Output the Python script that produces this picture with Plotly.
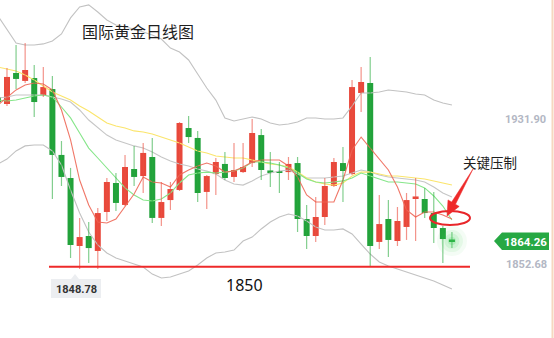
import plotly.graph_objects as go

W, H = 554, 338

# ---- data (daily gold candles) ----
opens = [1944.1, 1940.2, 1957.4, 1953.0, 1954.6, 1945.2, 1948.5, 1912.0, 1899.2, 1861.55,
         1867.1, 1858.8, 1880.4, 1896.45, 1884.3, 1904.2, 1900.3, 1910.85, 1877.1, 1887.0,
         1892.6, 1926.9, 1921.4, 1891.5, 1901.4, 1907.0, 1899.8, 1902.5, 1907.5, 1923.0,
         1903.1, 1902.5, 1902.5, 1907.5, 1876.5, 1867.1, 1877.6, 1894.8, 1907.5, 1901.4,
         1946.3, 1951.85, 1863.8, 1876.5, 1864.3, 1872.1, 1888.1, 1887.6, 1879.8, 1871.5,
         1864.9]
highs = [1945.75, 1960.2, 1972.9, 1974.0, 1961.8, 1960.7, 1955.7, 1919.7, 1904.8, 1877.1,
         1874.8, 1882.6, 1899.2, 1902.0, 1912.0, 1917.0, 1918.6, 1921.4, 1897.0, 1897.0,
         1930.2, 1933.6, 1925.3, 1900.9, 1910.3, 1913.6, 1918.6, 1918.6, 1931.9, 1926.4,
         1913.6, 1908.1, 1910.85, 1910.85, 1884.3, 1888.7, 1899.2, 1910.3, 1916.4, 1953.5,
         1960.7, 1966.25, 1889.8, 1887.0, 1883.15, 1890.9, 1899.2, 1893.7, 1891.5, 1872.6,
         1869.3]
lows = [1939.7, 1939.1, 1948.5, 1951.85, 1933.0, 1944.1, 1887.6, 1894.8, 1854.9, 1848.8,
        1852.1, 1848.78, 1875.4, 1880.9, 1883.7, 1894.8, 1890.9, 1874.3, 1872.6, 1881.5,
        1892.0, 1918.6, 1885.9, 1882.0, 1889.8, 1898.1, 1897.0, 1902.0, 1905.3, 1898.1,
        1894.2, 1890.9, 1898.1, 1869.3, 1859.9, 1863.8, 1873.2, 1894.2, 1885.9, 1900.9,
        1935.8, 1850.5, 1859.9, 1855.45, 1861.55, 1864.9, 1864.3, 1877.1, 1863.2, 1852.1,
        1860.4]
closes = [1941.3, 1955.2, 1954.1, 1959.05, 1941.3, 1949.6, 1912.0, 1899.8, 1862.1, 1866.5,
          1860.4, 1879.8, 1897.0, 1885.4, 1905.3, 1899.8, 1913.1, 1877.1, 1885.9, 1893.1,
          1929.7, 1921.9, 1890.9, 1900.3, 1908.1, 1899.2, 1903.65, 1905.3, 1924.15, 1903.65,
          1902.5, 1902.0, 1907.0, 1876.5, 1867.1, 1877.6, 1894.8, 1908.1, 1903.1, 1949.6,
          1952.4, 1861.55, 1873.7, 1864.9, 1875.4, 1887.0, 1888.7, 1879.8, 1871.5, 1865.4,
          1864.26]

ma_red = [1939.7, 1944.1, 1948.0, 1950.7, 1951.85, 1951.3, 1948.0, 1936.9, 1920.3, 1898.1,
          1884.3, 1874.8, 1874.3, 1876.5, 1883.15, 1890.35, 1899.8, 1897.0, 1896.45, 1894.2,
          1900.9, 1903.65, 1905.9, 1907.5, 1905.9, 1902.5, 1903.1, 1905.3, 1908.1, 1909.2,
          1909.2, 1909.2, 1905.9, 1899.8, 1889.8, 1885.9, 1885.9, 1885.9, 1898.1, 1914.7,
          1921.9, 1915.8, 1909.2, 1903.65, 1894.2, 1881.5, 1877.6, 1880.4, 1880.4, 1878.7,
          1876.5]
ma_green = [1942.4, 1941.9, 1942.4, 1943.5, 1944.65, 1945.2, 1944.1, 1938.55, 1932.5, 1924.15,
            1915.8, 1910.3, 1904.8, 1899.8, 1893.7, 1889.8, 1887.0, 1886.5, 1887.6, 1890.9,
            1896.45, 1900.9, 1902.0, 1902.5, 1902.0, 1902.5, 1903.1, 1904.8, 1908.1, 1908.1,
            1907.5, 1906.4, 1904.8, 1902.0, 1898.7, 1897.0, 1896.45, 1897.0, 1897.6, 1899.2,
            1902.0, 1900.3, 1898.7, 1897.0, 1897.0, 1896.45, 1895.9, 1893.7, 1889.25, 1883.7,
            1875.95]
ma_yellow = [1960.7, 1959.6, 1958.5, 1956.3, 1953.5, 1950.2, 1946.9, 1944.65, 1942.4, 1939.1,
             1936.3, 1933.0, 1929.7, 1928.0, 1926.9, 1925.3, 1924.7, 1923.6, 1921.9, 1920.3,
             1918.6, 1916.4, 1914.2, 1913.1, 1911.4, 1910.85, 1910.3, 1910.3, 1909.2, 1908.1,
             1907.0, 1906.4, 1905.3, 1902.5, 1899.2, 1897.0, 1895.9, 1895.3, 1896.45, 1900.3,
             1902.5, 1902.5, 1901.4, 1900.3, 1900.3, 1899.8, 1899.2, 1898.7, 1897.6, 1896.45,
             1895.3]
boll_mid = [1943.5, 1944.1, 1945.2, 1945.2, 1945.2, 1945.2, 1944.1, 1943.0, 1941.3, 1936.9,
            1931.35, 1926.9, 1923.0, 1920.3, 1918.6, 1917.0, 1915.8, 1913.6, 1910.85, 1908.6,
            1907.0, 1905.9, 1904.2, 1903.1, 1901.4, 1898.1, 1895.9, 1895.3, 1897.6, 1900.3,
            1902.0, 1903.1, 1903.65, 1901.4, 1899.2, 1899.2, 1899.2, 1899.8, 1900.3, 1902.0,
            1903.65, 1902.5, 1900.9, 1899.8, 1899.2, 1898.7, 1898.1, 1897.0, 1894.2, 1890.9,
            1888.7]
boll_up = [1989.0, 1981.2, 1974.0, 1972.9, 1972.9, 1973.5, 1975.1, 1979.0, 1987.9, 1994.0,
           1995.1, 1991.2, 1986.75, 1984.0, 1982.9, 1981.8, 1980.1, 1978.4, 1976.2, 1971.2,
           1969.0, 1964.6, 1956.8, 1949.1, 1942.4, 1932.5, 1930.8, 1931.9, 1933.0, 1931.9,
           1929.7, 1928.6, 1929.1, 1930.2, 1932.5, 1932.5, 1931.9, 1931.9, 1932.5, 1939.1,
           1946.3, 1946.3, 1946.9, 1948.0, 1947.4, 1946.9, 1945.75, 1945.2, 1942.4, 1940.8,
           1939.7]
boll_low = [1907.0, 1909.7, 1914.2, 1917.0, 1917.5, 1917.5, 1914.2, 1906.4, 1892.6, 1879.8,
            1869.3, 1862.1, 1857.7, 1854.9, 1853.2, 1851.6, 1849.9, 1846.0, 1843.8, 1844.4,
            1846.0, 1847.7, 1851.0, 1854.9, 1857.7, 1858.2, 1859.3, 1864.3, 1866.5, 1871.0,
            1874.8, 1877.6, 1879.3, 1878.2, 1875.4, 1872.1, 1870.4, 1870.4, 1871.0, 1868.2,
            1862.65, 1857.1, 1852.7, 1850.5, 1848.8, 1847.1, 1845.5, 1843.8, 1842.2, 1839.9,
            1837.7]

last_price = 1864.26
label_high = 1931.90
label_low = 1852.68
period_low = 1848.78
support_level = 1850
title_text = "国际黄金日线图"
note_text = "关键压制"

# ---- styling ----
RED = "#e8483b"
GREEN = "#22a23b"
RED_WICK = "rgba(236,80,66,0.62)"
GREEN_WICK = "rgba(40,170,60,0.58)"
X_RANGE = [0.231, 61.24]
Y_RANGE = [1810.58, 1997.83]


def px(x):
    return x / W


def py(y):
    return 1 - y / H


idx = list(range(len(closes)))
fig = go.Figure()

# bollinger + moving averages
for series, color in [(boll_up, "#c2c2c2"), (boll_low, "#c2c2c2"), (boll_mid, "#c6c6c6"),
                      (ma_yellow, "#fbe56c"), (ma_green, "#86e68a"), (ma_red, "rgba(238,104,88,0.9)")]:
    fig.add_trace(go.Scatter(x=idx, y=series, mode="lines",
                             line=dict(color=color, width=1.1), hoverinfo="skip",
                             showlegend=False))

# candles: wicks and bodies
for up, body_col, wick_col in [(True, RED, RED_WICK), (False, GREEN, GREEN_WICK)]:
    sel = [i for i in idx if (closes[i] > opens[i]) == up]
    wx, wy = [], []
    for i in sel:
        wx += [i, i, None]
        wy += [lows[i], highs[i], None]
    fig.add_trace(go.Scatter(x=wx, y=wy, mode="lines", line=dict(color=wick_col, width=1.2),
                             hoverinfo="skip", showlegend=False))
    fig.add_trace(go.Bar(x=sel,
                         base=[min(opens[i], closes[i]) for i in sel],
                         y=[max(abs(closes[i] - opens[i]), 0.9) for i in sel],
                         width=0.66, marker=dict(color=body_col, line=dict(width=0)),
                         hoverinfo="skip", showlegend=False))

# glow on the latest price
for s, op in [(30, 0.06), (22, 0.09), (15, 0.13), (8, 0.2)]:
    fig.add_trace(go.Scatter(x=[idx[-1]], y=[last_price], mode="markers",
                             marker=dict(size=s, color="#41d25a", opacity=op, line=dict(width=0)),
                             hoverinfo="skip", showlegend=False))

shapes = []
# 1850 support line
shapes.append(dict(type="line", xref="paper", yref="y", x0=px(49), x1=px(470),
                   y0=support_level, y1=support_level, line=dict(color="#ee2a2a", width=2)))
# right edge line
shapes.append(dict(type="line", xref="paper", yref="paper", x0=px(552.5), x1=px(552.5),
                   y0=0, y1=1, line=dict(color="#f6d8bf", width=2)))
# ellipse
shapes.append(dict(type="circle", xref="paper", yref="paper", x0=px(430), x1=px(470),
                   y0=py(225), y1=py(211), line=dict(color="#e8262a", width=2)))
# arrow
pts = [(473, 169), (455.5, 204.3), (459.2, 206.4), (447, 216), (448.0, 199.9), (451.7, 202.0)]
path = "M " + " L ".join(f"{px(a):.5f},{py(b):.5f}" for a, b in pts) + " Z"
shapes.append(dict(type="path", xref="paper", yref="paper", path=path,
                   fillcolor="#ee2a2a", line=dict(color="#ee2a2a", width=0.5)))
# price tag
tag = [(494, 241), (502, 232.5), (549, 232.5), (549, 250), (502, 250)]
path = "M " + " L ".join(f"{px(a):.5f},{py(b):.5f}" for a, b in tag) + " Z"
shapes.append(dict(type="path", xref="paper", yref="paper", path=path,
                   fillcolor="#26a843", line=dict(width=0)))
# low label box
shapes.append(dict(type="rect", xref="paper", yref="paper", x0=px(51), x1=px(101),
                   y0=py(298), y1=py(279), fillcolor="#eceef1", line=dict(width=0)))
tri = [(71, 279), (75, 274), (79, 279)]
path = "M " + " L ".join(f"{px(a):.5f},{py(b):.5f}" for a, b in tri) + " Z"
shapes.append(dict(type="path", xref="paper", yref="paper", path=path,
                   fillcolor="#eceef1", line=dict(width=0)))

annotations = [
    dict(text=title_text, x=px(138), y=py(31), font=dict(family="Noto Sans CJK SC", size=16, color="#1f1f1f")),
    dict(text=note_text, x=px(490), y=py(162), font=dict(family="Noto Sans CJK SC", size=13.5, color="#1f1f1f")),
    dict(text=str(support_level), x=px(244), y=py(285), font=dict(family="Noto Sans", size=16, color="#111111")),
    dict(text=f"{label_high:.2f}", x=px(525), y=py(119), font=dict(family="Roboto", size=11, color="#b3b7c4", weight="bold")),
    dict(text=f"{label_low:.2f}", x=px(526), y=py(264), font=dict(family="Roboto", size=11, color="#b3b7c4", weight="bold")),
    dict(text=f"{last_price:.2f}", x=px(525), y=py(241.5), font=dict(family="Roboto", size=11.5, color="#ffffff", weight="bold")),
    dict(text=f"{period_low:.2f}", x=px(76), y=py(289), font=dict(family="Roboto", size=11, color="#333333", weight="bold")),
]
for a in annotations:
    a.update(xref="paper", yref="paper", showarrow=False, xanchor="center", yanchor="middle")

fig.update_layout(
    width=W, height=H, margin=dict(l=0, r=0, t=0, b=0),
    paper_bgcolor="white", plot_bgcolor="white",
    barmode="overlay", showlegend=False,
    xaxis=dict(range=X_RANGE, visible=False, fixedrange=True),
    yaxis=dict(range=Y_RANGE, visible=False, fixedrange=True),
    shapes=shapes, annotations=annotations,
)

fig.write_html("out.html", config={"displayModeBar": False})
